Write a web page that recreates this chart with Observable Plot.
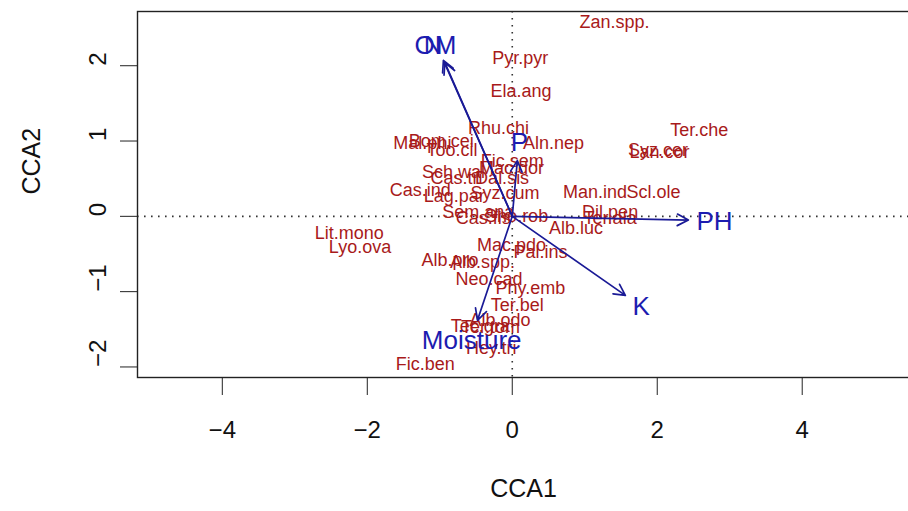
<!DOCTYPE html>
<html>
<head>
<meta charset="utf-8">
<script src="https://cdn.jsdelivr.net/npm/d3@7"></script>
<script src="https://cdn.jsdelivr.net/npm/@observablehq/plot@0.6"></script>
<style>
  html, body { margin: 0; padding: 0; background: #fff; overflow: hidden; width: 908px; height: 511px; }
  #chart { width: 912px; }
  #chart svg { display: block; max-width: none !important; }
</style>
</head>
<body>
<div id="chart"></div>
<script>
// Species scores (CCA1, CCA2)
const species = ["Zan.spp.","Pyr.pyr","Ela.ang","Rhu.chi","Aln.nep","Bom.cei","Mal.phi","Too.cil",
  "Fic.sem","Mac.dor","Sch.wal","Cas.tri","Dal.sis","Cas.ind","Lag.par","Syz.cum","Man.ind","Scl.ole",
  "Dil.pen","Ter.ala","Alb.luc","Sem.ana","Cas.fis","Sho.rob","Lit.mono","Lyo.ova","Alb.pro","Alb.spp.",
  "Mac.pdo","Pal.ins","Neo.cad","Phy.emb","Ter.bel","Alb.odo","Tec.gra","Ter.tom","Hey.tri","Fic.ben",
  "Ter.che","Syz.cer","Lan.cor"];
const spX = [1.41,0.11,0.12,-0.19,0.57,-0.98,-1.24,-0.83,
  0.00,-0.01,-0.81,-0.77,-0.14,-1.27,-0.80,-0.10,1.14,1.95,
  1.35,1.35,0.88,-0.47,-0.40,0.06,-2.25,-2.10,-0.86,-0.41,
  -0.01,0.39,-0.32,0.25,0.07,-0.17,-0.44,-0.30,-0.29,-1.20,
  2.58,2.01,2.03];
const spY = [2.58,2.10,1.66,1.17,0.97,1.00,0.97,0.88,
  0.73,0.64,0.58,0.50,0.50,0.35,0.27,0.31,0.32,0.32,
  0.05,-0.03,-0.16,0.05,-0.03,0.00,-0.23,-0.41,-0.58,-0.61,
  -0.39,-0.48,-0.84,-0.96,-1.18,-1.38,-1.46,-1.47,-1.75,-1.97,
  1.14,0.88,0.85];

// Environmental biplot arrows
const envNames = ["OM","N","P","PH","K","Moisture"];
const envX = [-0.93,-0.95,0.07,2.43,1.56,-0.48];
const envY = [2.04,2.07,0.74,-0.05,-1.05,-1.38];
const envLabelX = [-1.06,-1.09,0.10,2.79,1.78,-0.56];
const envLabelY = [2.27,2.27,0.98,-0.07,-1.20,-1.65];

const xTicks = [-4,-2,0,2,4];
const yTicks = [-2,-1,0,1,2];

const spData = species.map((s,i) => ({name: s, x: spX[i], y: spY[i]}));
const envData = envNames.map((s,i) => ({name: s, x: envX[i], y: envY[i], lx: envLabelX[i], ly: envLabelY[i]}));
const fmt = d => String(d).replace("-", "\u2212");
const FONT = "'Liberation Sans', Arial, Helvetica, sans-serif";
const RED = "#a81a1a";
const BLUE_TXT = "#1c1cb0";
const BLUE_ARR = "#1a1a96";

const chart = Plot.plot({
  width: 912,
  height: 511,
  marginLeft: 137,
  marginRight: 3,
  marginTop: 11,
  marginBottom: 134,
  style: {fontFamily: FONT, background: "#fff", color: "#111", maxWidth: "none"},
  x: {domain: [-5.17, 5.48]},
  y: {domain: [-2.14, 2.72]},
  marks: [
    Plot.ruleX([0], {stroke: "#333", strokeWidth: 1.6, strokeDasharray: "1.6,5.4"}),
    Plot.ruleY([0], {stroke: "#333", strokeWidth: 1.6, strokeDasharray: "1.6,5.4"}),
    Plot.text(spData, {x: "x", y: "y", text: "name", fill: RED, fontSize: 18, fontFamily: FONT}),
    Plot.arrow(envData, {x1: d => 0, y1: d => 0, x2: "x", y2: "y", stroke: BLUE_ARR, strokeWidth: 1.7, headLength: 11, headAngle: 55}),
    Plot.text(envData, {x: "lx", y: "ly", text: "name", fill: BLUE_TXT, fontSize: 26, fontFamily: FONT}),
    Plot.frame({stroke: "#222", strokeWidth: 1.4}),
    Plot.axisX({ticks: xTicks, tickSize: 18, tickPadding: 25, tickFormat: fmt, fontSize: 24, label: null, stroke: "#222"}),
    Plot.axisY({ticks: yTicks, tickSize: 17, tickFormat: () => "", label: null, stroke: "#222"}),
    Plot.text(yTicks, {y: d => d, frameAnchor: "left", dx: -39, rotate: -90, text: fmt, fontSize: 24, fill: "#111", fontFamily: FONT}),
    Plot.text(["CCA1"], {frameAnchor: "bottom", dy: 119, fontSize: 25, fill: "#111", fontFamily: FONT}),
    Plot.text(["CCA2"], {frameAnchor: "left", dx: -106, rotate: -90, fontSize: 25, fill: "#111", fontFamily: FONT})
  ]
});
document.getElementById("chart").appendChild(chart);
</script>
</body>
</html>
